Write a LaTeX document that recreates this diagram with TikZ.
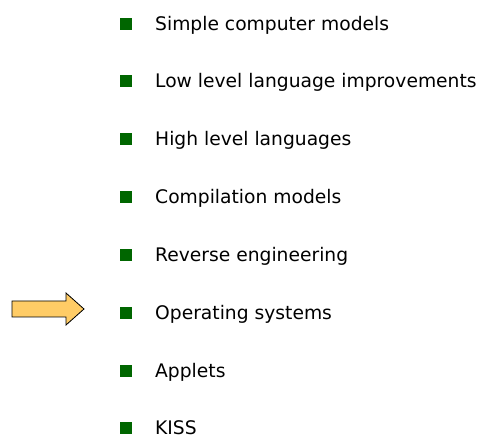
\documentclass[tikz,border=0pt]{standalone}
\usepackage{fontspec}
\setmainfont{DejaVu Sans}
\definecolor{bulletgreen}{HTML}{006600}
\definecolor{arrowfill}{HTML}{FFCC66}
\begin{document}
\begin{tikzpicture}[x=1pt,y=-1pt,
  bulletbox/.style={fill=bulletgreen, minimum size=12pt, inner sep=0pt, draw=none},
  itemtext/.style={anchor=base west, inner sep=0pt, text depth=0pt, font=\fontsize{18.7}{21}\selectfont},
  pointer/.style={fill=arrowfill, draw=black, line width=0.8pt, line join=miter}]
\useasboundingbox (0,0) rectangle (480,438);
\foreach \i/\y/\t in {1/24/Simple computer models,
                      2/81/Low level language improvements,
                      3/139/High level languages,
                      4/197/Compilation models,
                      5/255/Reverse engineering,
                      6/313/Operating systems,
                      7/371/Applets,
                      8/428/KISS}{
  \node[bulletbox] (b\i) at (125.5,\y) {};
  \node[itemtext] (t\i) at (155,\y+7) {\t};
}
\draw[pointer] (12,301) -- (66,301) -- (66,293) -- (84,309) -- (66,325) -- (66,317) -- (12,317) -- cycle;
\end{tikzpicture}
\end{document}
